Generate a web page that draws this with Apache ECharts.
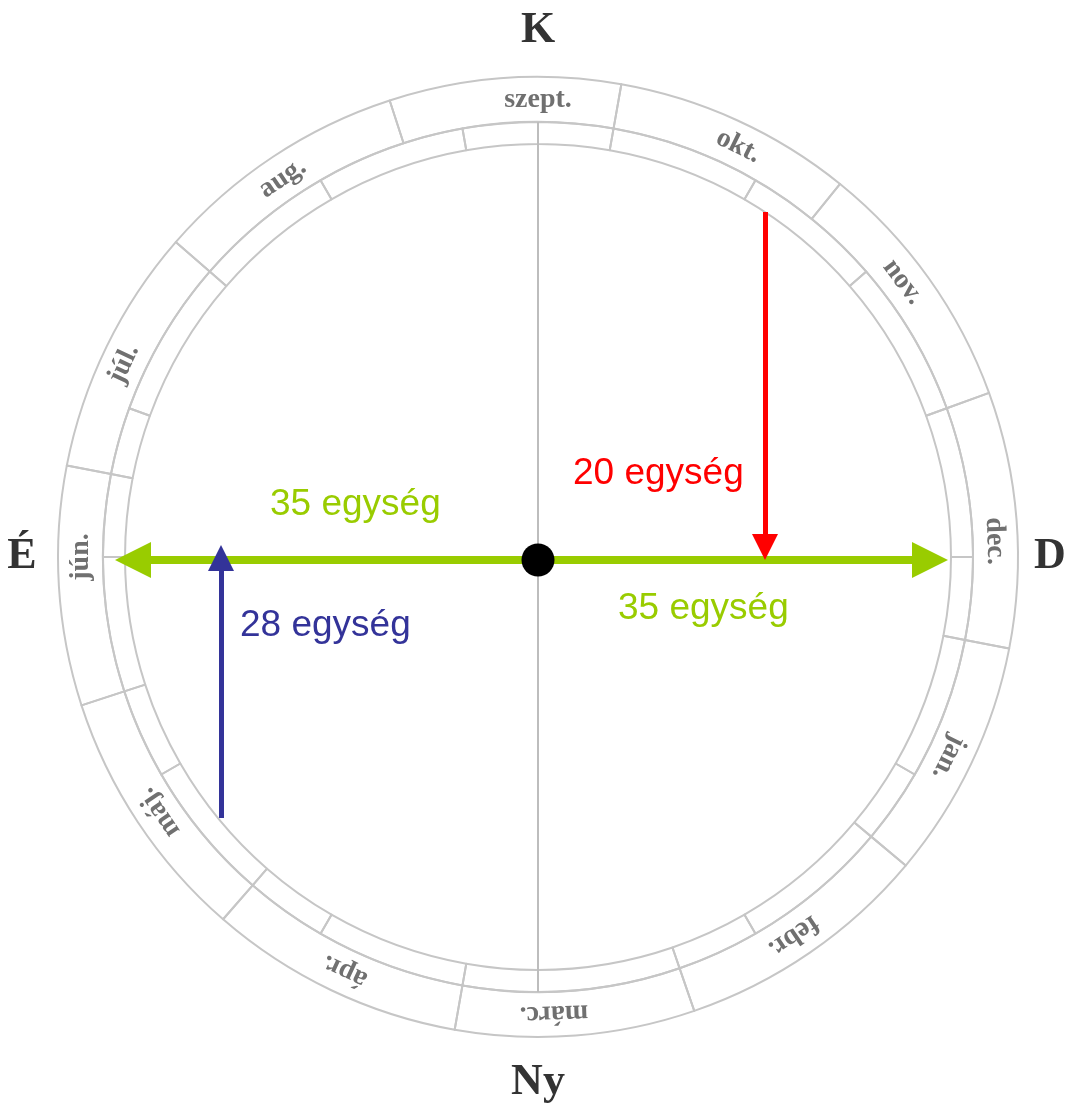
<!DOCTYPE html>
<html>
<head>
<meta charset="utf-8">
<script src="https://cdn.jsdelivr.net/npm/echarts@6/dist/echarts.min.js"></script>
<style>
html, body { margin: 0; padding: 0; background: #fff; }
#chart { width: 1071px; height: 1114px; }
</style>
</head>
<body>
<div id="chart"></div>
<script>
// hónapok a perem mentén, felülről az óramutató járásával
var months = ['szept.', 'okt.', 'nov.', 'dec.', 'jan.', 'febr.', 'márc.', 'ápr.', 'máj.', 'jún.', 'júl.', 'aug.']
// szögek fokban: kelet = 0, az óramutatóval ellentétesen nő
var monthAngles = [90, 64, 37, 2, -26, -56, -88, -115, -146, -180, 155, 124]
// a hónapsáv határvonalai (csökkenő sorrendben)
var outerDividers = [108, 80, 51, 20, -11, -40, -71, -100, -131, -162, -191, -221]
// a belső keskeny sáv határvonalai
var innerDividers = [100, 90, 80, 60, 41, 20, 0, -11, -30, -40, -60, -71, -90, -100, -120, -131, -150, -162, -180, -191, -200, -221, -240]
var ringRadii = [413, 435, 480]
var directions = ['K', 'D', 'Ny', 'É']
var directionAngles = [90, 0, -90, 180]
var directionRadii = [526, 512, 526, 516]

// nyilak (x, y értékek a középponttól)
var greenArrow = [[-405, 0], [392, 0]]
var redArrow = [[227, 348], [227, 13]]
var blueArrow = [[-317, -258], [-317, 2]]
var labels = [
  { name: '20 egység', value: [35, 86], color: '#ff0000' },
  { name: '35 egység', value: [-268, 55], color: '#99cc00' },
  { name: '35 egység', value: [80, -49], color: '#99cc00' },
  { name: '28 egység', value: [-298, -66], color: '#333399' }
]

var chart = echarts.init(document.getElementById('chart'))

function spans(list) {
  var res = []
  for (var i = 0; i < list.length; i++) {
    var next = i + 1 < list.length ? list[i + 1] : list[0] - 360
    res.push({ value: list[i] - next })
  }
  return res
}
function toPolar(a) {
  return a < 0 ? a + 360 : a
}

var ringStyle = {
  color: 'rgba(255,255,255,0)',
  borderColor: '#c6c6c6',
  borderWidth: 2
}

var option = {
  animation: false,
  grid: { left: 0, right: 0, top: 0, bottom: 0 },
  xAxis: { type: 'value', min: -538, max: 533, show: false },
  yAxis: { type: 'value', min: -554, max: 560, show: false },
  polar: { center: [538, 557], radius: 560 },
  angleAxis: { type: 'value', min: 0, max: 360, startAngle: 0, clockwise: false, show: false },
  radiusAxis: { type: 'value', min: 0, max: 560, show: false },
  series: [
    {
      type: 'pie',
      silent: true,
      center: [538, 557],
      radius: [ringRadii[1], ringRadii[2]],
      startAngle: outerDividers[0],
      label: { show: false },
      itemStyle: ringStyle,
      data: spans(outerDividers)
    },
    {
      type: 'pie',
      silent: true,
      center: [538, 557],
      radius: [ringRadii[0], ringRadii[1]],
      startAngle: innerDividers[0],
      label: { show: false },
      itemStyle: ringStyle,
      data: spans(innerDividers)
    },
    {
      type: 'line',
      silent: true,
      symbol: 'none',
      data: [[0, 3 + ringRadii[1]], [0, 3 - ringRadii[1]]],
      lineStyle: { color: '#bdbdbd', width: 2 }
    },
    {
      type: 'lines',
      coordinateSystem: 'cartesian2d',
      silent: true,
      z: 4,
      symbol: ['triangle', 'triangle'],
      symbolSize: 36,
      lineStyle: { color: '#99cc00', width: 8, opacity: 1 },
      data: [{ coords: greenArrow }]
    },
    {
      type: 'lines',
      coordinateSystem: 'cartesian2d',
      silent: true,
      z: 4,
      symbol: ['none', 'triangle'],
      symbolSize: 26,
      lineStyle: { color: '#ff0000', width: 5, opacity: 1 },
      data: [{ coords: redArrow }]
    },
    {
      type: 'lines',
      coordinateSystem: 'cartesian2d',
      silent: true,
      z: 4,
      symbol: ['none', 'triangle'],
      symbolSize: 26,
      lineStyle: { color: '#333399', width: 5, opacity: 1 },
      data: [{ coords: blueArrow }]
    },
    {
      type: 'scatter',
      silent: true,
      z: 6,
      symbolSize: 33,
      itemStyle: { color: '#000', opacity: 1 },
      data: [[0, 0]]
    },
    {
      type: 'scatter',
      silent: true,
      z: 6,
      symbolSize: 0,
      itemStyle: { opacity: 1 },
      data: labels.map(function(d) {
        return {
          name: d.name,
          value: d.value,
          label: {
            show: true,
            position: 'inside',
            align: 'left',
            verticalAlign: 'middle',
            formatter: '{b}',
            fontFamily: 'Liberation Sans, Arial',
            fontSize: 37,
            color: d.color
          }
        }
      })
    },
    {
      type: 'scatter',
      coordinateSystem: 'polar',
      silent: true,
      clip: false,
      symbolSize: 0,
      itemStyle: { opacity: 1 },
      data: months.map(function(m, i) {
        return {
          name: m,
          value: [457, toPolar(monthAngles[i])],
          label: {
            show: true,
            position: 'inside',
            formatter: '{b}',
            rotate: monthAngles[i] - 90,
            fontFamily: 'Liberation Serif, serif',
            fontWeight: 'bold',
            fontSize: 28,
            color: '#707070'
          }
        }
      })
    },
    {
      type: 'scatter',
      coordinateSystem: 'polar',
      silent: true,
      clip: false,
      symbolSize: 0,
      itemStyle: { opacity: 1 },
      data: directions.map(function(d, i) {
        return {
          name: d,
          value: [directionRadii[i], toPolar(directionAngles[i])],
          label: {
            show: true,
            position: 'inside',
            formatter: '{b}',
            fontFamily: 'Liberation Serif, serif',
            fontWeight: 'bold',
            fontSize: 44,
            color: '#333333'
          }
        }
      })
    }
  ]
}
chart.setOption(option)
</script>
</body>
</html>
